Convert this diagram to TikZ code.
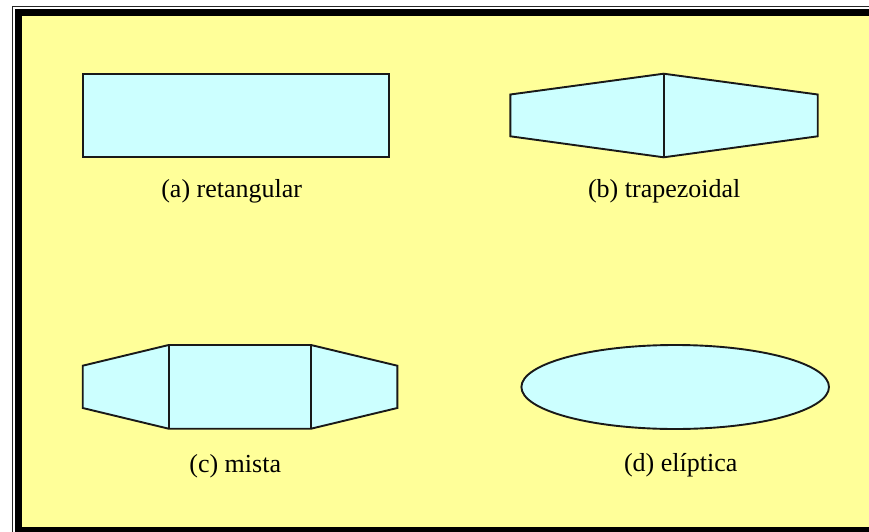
\documentclass[tikz,border=0pt]{standalone}
\usepackage{fontspec}
\setmainfont{Liberation Serif}
\definecolor{paper}{RGB}{255,255,153}
\definecolor{wing}{RGB}{204,255,255}
\begin{document}
\begin{tikzpicture}[x=1pt,y=-1pt,
  planform/.style={draw=black!90,fill=wing,line width=1.9pt,line join=miter},
  caption/.style={anchor=base,inner sep=0pt,font=\fontsize{26}{30}\selectfont}]
\useasboundingbox (0,0) rectangle (869,532);
\begin{scope}
\clip (0,0) rectangle (869,532);
\fill[white] (0,0) rectangle (869,532);
% double frame: thin outer rule and thick inner border
\draw[black!85,line width=1.3pt] (12.7,6.7) rectangle (900,560);
\draw[black,line width=6.8pt] (18.4,12.4) rectangle (890,530.2);
\fill[paper] (21.8,15.8) rectangle (880,526.8);
\end{scope}

% (a) rectangular planform
\draw[planform] (83,74) rectangle (389,157);
\node[caption] (la) at (231.7,197.7) {(a) retangular};

% (b) trapezoidal planform
\draw[planform] (510.3,94.5) -- (663.7,73.7) -- (817.7,94.5) -- (817.7,136.3)
  -- (663.7,157.3) -- (510.3,136.3) -- cycle;
\draw[planform] (663.7,73.7) -- (663.7,157.3);
\node[caption] (lb) at (664.2,197.7) {(b) trapezoidal};

% (c) mixed planform
\draw[planform] (82.7,365.7) -- (168.7,345) -- (311,345) -- (397.3,365.7)
  -- (397.3,408) -- (311,428.7) -- (168.7,428.7) -- (82.7,408) -- cycle;
\draw[planform] (168.7,345) -- (168.7,428.7);
\draw[planform] (311,345) -- (311,428.7);
\node[caption] (lc) at (235.2,472.3) {(c) mista};

% (d) elliptical planform
\draw[planform] (675.2,387) ellipse [x radius=153.8,y radius=42];
\node[caption] (ld) at (680.7,471.8) {(d) elíptica};
\end{tikzpicture}
\end{document}
